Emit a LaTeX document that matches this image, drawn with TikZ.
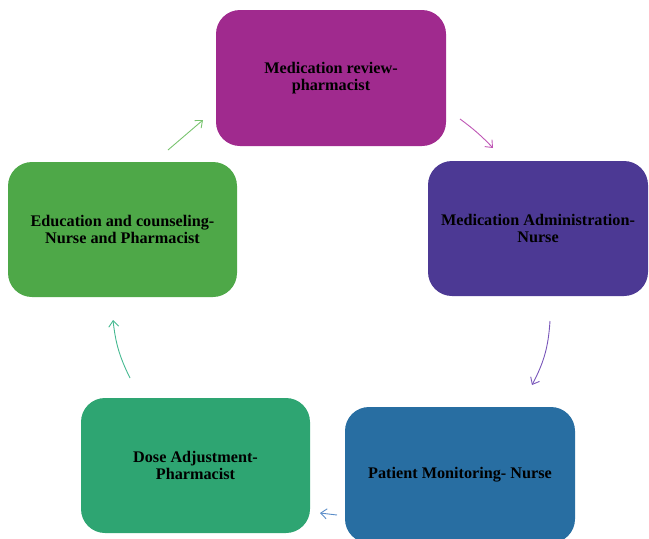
\documentclass[tikz,border=0pt]{standalone}
\usepackage{fontspec}
\setmainfont{Liberation Serif}
\usetikzlibrary{arrows.meta}
\definecolor{cTop}{RGB}{160,42,142}
\definecolor{cRight}{RGB}{76,57,148}
\definecolor{cBlue}{RGB}{40,110,162}
\definecolor{cDose}{RGB}{46,165,114}
\definecolor{cEdu}{RGB}{78,168,72}
\definecolor{aGreen}{RGB}{120,195,110}
\definecolor{aMag}{RGB}{190,85,180}
\definecolor{aPur}{RGB}{120,85,185}
\definecolor{aBlue}{RGB}{90,140,200}
\definecolor{aTeal}{RGB}{70,185,145}
\begin{document}
\begin{tikzpicture}[x=1pt,y=-1pt,
  stagebox/.style={rounded corners=24pt, inner sep=0pt, align=center,
    font=\fontsize{16.2}{17.5}\selectfont\bfseries, text=black},
  cyc/.style={line width=0.9pt, -{Straight Barb[length=6pt,width=10pt]}}]
\useasboundingbox (0,0) rectangle (649,539);
\node[stagebox, fill=cTop, minimum width=230pt, minimum height=136pt] (top) at (331,78) {Medication review-\\pharmacist};
\node[stagebox, fill=cRight, minimum width=220pt, minimum height=135pt] (right) at (538,228.5) {Medication Administration-\\Nurse};
\node[stagebox, fill=cBlue, minimum width=230pt, minimum height=136pt] (mon) at (460,475) {Patient Monitoring- Nurse};
\node[stagebox, fill=cDose, minimum width=229pt, minimum height=135pt] (dose) at (195.5,465.5) {Dose Adjustment-\\Pharmacist};
\node[stagebox, fill=cEdu, minimum width=229pt, minimum height=135pt] (edu) at (122.5,229.5) {Education and counseling-\\Nurse and Pharmacist};
\coordinate (a1s) at (168,150); \coordinate (a1e) at (203,120);
\coordinate (a2s) at (460,119); \coordinate (a2e) at (493,148);
\coordinate (a3s) at (550,321); \coordinate (a3e) at (532,385);
\coordinate (a4s) at (337,515); \coordinate (a4e) at (320,513);
\coordinate (a5s) at (130,378); \coordinate (a5e) at (113,320);
\draw[cyc, aGreen] (a1s) -- (a1e);
\draw[cyc, aMag] (a2s) to[bend left=5] (a2e);
\draw[cyc, aPur] (a3s) to[bend left=12] (a3e);
\draw[cyc, aBlue] (a4s) -- (a4e);
\draw[cyc, aTeal] (a5s) to[bend left=10] (a5e);
\end{tikzpicture}
\end{document}
